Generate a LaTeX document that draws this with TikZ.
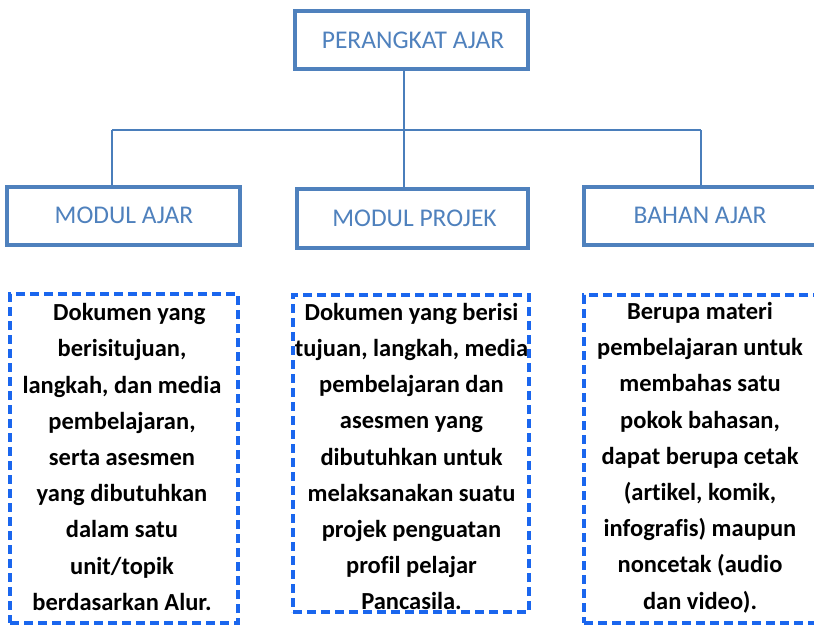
\documentclass[tikz,border=0pt]{standalone}
\usepackage{fontspec}
\setmainfont{Carlito}[Ligatures=NoCommon]
\definecolor{boxblue}{HTML}{4F81BD}
\definecolor{linkblue}{HTML}{4A7EBB}
\definecolor{dashblue}{HTML}{1A66EE}
\begin{document}
\begin{tikzpicture}[x=1pt,y=-1pt,
  titlebox/.style={draw=boxblue,line width=4pt,fill=white,inner sep=0pt},
  titletext/.style={font=\fontsize{25.5}{30}\selectfont,text=boxblue,inner sep=0pt},
  descbox/.style={draw=dashblue,line width=3.2pt,dash pattern=on 9pt off 5pt,inner sep=0pt},
  desctext/.style={align=center,inner sep=0pt,font=\bfseries\fontsize{24.5}{36.2}\selectfont},
  link/.style={draw=linkblue,line width=1.5pt}]
\useasboundingbox (0,0) rectangle (814,625);
\fill[white] (0,0) rectangle (814,625);

% heading and the three kinds of material
\node[titlebox,minimum width=233pt,minimum height=58pt] (top) at (411.5,40) {};
\node[titletext] (ttop) at (413,40) {PERANGKAT AJAR};

\node[titlebox,minimum width=233pt,minimum height=58pt] (ajar) at (123.5,216) {};
\node[titletext] (tajar) at (124,215) {MODUL AJAR};

\node[titlebox,minimum width=231pt,minimum height=59pt] (projek) at (412.5,218.5) {};
\node[titletext] (tprojek) at (414.5,218) {MODUL PROJEK};

\node[titlebox,minimum width=233pt,minimum height=58pt] (bahan) at (700.5,216) {};
\node[titletext] (tbahan) at (700,215) {BAHAN AJAR};

% branching connectors
\coordinate (hub) at (404,130);
\coordinate (jL) at (112,130);
\coordinate (jR) at (701,130);
\draw[link] (hub |- top.south) -- (hub);
\draw[link] (jL) -- (jR);
\draw[link] (jL) -- (jL |- ajar.north);
\draw[link] (hub) -- (hub |- projek.north);
\draw[link] (jR) -- (jR |- bahan.north);

% descriptions
\node[descbox,minimum width=228pt,minimum height=329pt] (dajar) at (124,458.5) {};
\node[desctext] (xajar) at (122,457)
  {\hspace*{0.6em}Dokumen yang\\ berisitujuan,\\ langkah, dan media\\ pembelajaran,\\
   serta asesmen\\ yang dibutuhkan\\ dalam satu\\ unit/topik\\ berdasarkan Alur.};

\node[descbox,minimum width=236pt,minimum height=317pt] (dprojek) at (411,453.5) {};
\node[desctext] (xprojek) at (411.5,456.5)
  {Dokumen yang berisi\\ \kern-1pt tujuan, langkah, media\kern-1pt\\ pembelajaran dan\\ asesmen yang\\
   dibutuhkan untuk\\ melaksanakan suatu\\ projek penguatan\\ profil pelajar\\ Pancasila.};

\node[descbox,minimum width=235pt,minimum height=328pt] (dbahan) at (701.5,459) {};
\node[desctext] (xbahan) at (700,457.5)
  {Berupa materi\\ pembelajaran untuk\\ membahas satu\\ pokok bahasan,\\
   dapat berupa cetak\\ (artikel, komik,\\ infografis) maupun\\ noncetak (audio\\ dan video).};
\end{tikzpicture}
\end{document}
